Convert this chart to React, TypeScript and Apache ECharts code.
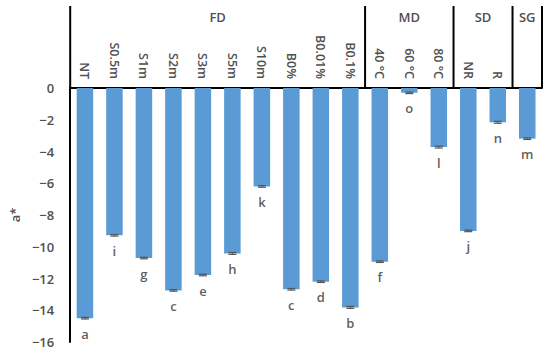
import React, { useEffect, useRef } from "react";
import * as echarts from "echarts";

const categories = ["NT", "S0.5m", "S1m", "S2m", "S3m", "S5m", "S10m", "B0%", "B0.01%", "B0.1%", "40 °C", "60 °C", "80 °C", "NR", "R", "SG"];
const tickLabels = ["NT", "S0.5m", "S1m", "S2m", "S3m", "S5m", "S10m", "B0%", "B0.01%", "B0.1%", "40 °C", "60 °C", "80 °C", "NR", "R", ""];
const values = [-14.5, -9.28, -10.71, -12.75, -11.78, -10.42, -6.2, -12.68, -12.2, -13.82, -10.94, -0.3, -3.72, -9.0, -2.16, -3.19];
const errors = [0.05, 0.05, 0.05, 0.05, 0.05, 0.06, 0.05, 0.05, 0.05, 0.06, 0.05, 0.05, 0.06, 0.05, 0.06, 0.05];
const letters = ["a", "i", "g", "c", "e", "h", "k", "c", "d", "b", "f", "o", "l", "j", "n", "m"];
const groupNames = ["FD", "MD", "SD", "SG"];
const groupSizes = [10, 3, 2, 1];

const FONT = "Open Sans";
const GRAY = "#505050";

export default function App() {
  const ref = useRef<HTMLDivElement>(null);
  useEffect(() => {
    if (!ref.current) return;
    const chart = echarts.init(ref.current, undefined, { renderer: "svg" });
    const option: any = {
      animation: false,
      grid: { left: 58, right: 8, top: 88, bottom: 10, containLabel: false },
      xAxis: {
        type: "category",
        position: "top",
        data: categories,
        axisLine: { show: true, onZero: false, lineStyle: { color: "#000", width: 2 } },
        axisTick: { show: false },
        axisLabel: {
          rotate: 90,
          margin: 9,
          color: GRAY,
          fontFamily: FONT,
          fontSize: 12.5,
          fontWeight: 600,
          interval: 0,
          formatter: (_v: string, i: number) => tickLabels[i],
        },
      },
      yAxis: {
        type: "value",
        min: -16,
        max: 0,
        interval: 2,
        name: "a*",
        nameLocation: "middle",
        nameGap: 45,
        nameTextStyle: { color: GRAY, fontFamily: FONT, fontSize: 13, fontWeight: 600 },
        axisLine: { show: true, lineStyle: { color: "#000", width: 2 } },
        axisTick: { show: false },
        splitLine: { show: false },
        axisLabel: {
          color: GRAY,
          fontFamily: FONT,
          fontSize: 13,
          fontWeight: 600,
          margin: 16,
          formatter: (v: number) => String(v).replace("-", "\u2212"),
        },
      },
      series: [
        {
          type: "bar",
          data: values,
          barWidth: "56%",
          itemStyle: { color: "#5B9BD5" },
        },
        {
          type: "custom",
          data: values.map((v, i) => [i, v, errors[i]]),
          renderItem: (params: any, api: any) => {
            const x = api.value(0);
            const v = api.value(1);
            const e = api.value(2);
            const p1 = api.coord([x, v - e]);
            const p2 = api.coord([x, v + e]);
            const hw = 4;
            return {
              type: "group",
              children: [
                { type: "line", shape: { x1: p1[0], y1: p1[1], x2: p2[0], y2: p2[1] }, style: { stroke: "#555", lineWidth: 1 } },
                { type: "line", shape: { x1: p1[0] - hw, y1: p1[1], x2: p1[0] + hw, y2: p1[1] }, style: { stroke: "#555", lineWidth: 1.2 } },
                { type: "line", shape: { x1: p2[0] - hw, y1: p2[1], x2: p2[0] + hw, y2: p2[1] }, style: { stroke: "#555", lineWidth: 1.2 } },
              ],
            };
          },
          z: 5,
        },
        {
          type: "scatter",
          data: values,
          symbolSize: 0,
          label: {
            show: true,
            position: "bottom",
            distance: 9,
            color: "#333",
            fontFamily: FONT,
            fontSize: 13,
            fontWeight: 600,
            formatter: (p: any) => letters[p.dataIndex],
          },
          z: 6,
        },
      ],
    };
    chart.setOption(option);

    const c0 = chart.convertToPixel({ xAxisIndex: 0 }, 0) as number;
    const c1 = chart.convertToPixel({ xAxisIndex: 0 }, 1) as number;
    const band = c1 - c0;
    const y0 = chart.convertToPixel({ yAxisIndex: 0 }, 0) as number;
    const topY = 6;
    const graphics: any[] = [];
    const leftX = c0 - band / 2;
    graphics.push({ type: "line", shape: { x1: leftX, y1: topY, x2: leftX, y2: y0 }, style: { stroke: "#000", lineWidth: 2 } });
    let start = 0;
    groupNames.forEach((g, gi) => {
      const end = start + groupSizes[gi];
      const xs = c0 + (start - 0.5) * band;
      const xe = c0 + (end - 0.5) * band;
      graphics.push({ type: "line", shape: { x1: xe, y1: topY, x2: xe, y2: y0 }, style: { stroke: "#000", lineWidth: 2 } });
      graphics.push({
        type: "text",
        x: (xs + xe) / 2,
        y: 17,
        style: { text: g, fill: GRAY, font: `600 13px "${FONT}"`, align: "center", verticalAlign: "middle" },
      });
      start = end;
    });
    chart.setOption({ graphic: graphics });

    return () => chart.dispose();
  }, []);
  return <div ref={ref} style={{ width: 550, height: 352, position: "absolute", left: 0, top: 0 }} />;
}
